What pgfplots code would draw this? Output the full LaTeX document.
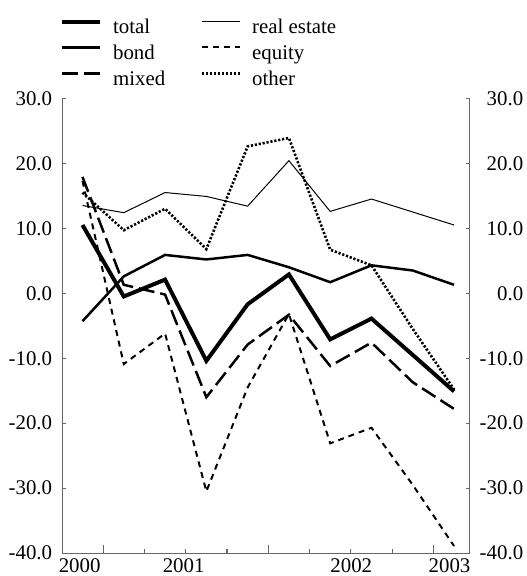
\documentclass[border=0pt]{standalone}
\usepackage{fontspec}
\setmainfont{Liberation Serif}
\usepackage{pgfplots}
\usepackage{pgfplotstable}
\pgfplotsset{compat=1.18}

% Returns by fund type, one row per half-year period
\pgfplotstableread{
i total bond mixed realestate equity other
0  10.5 -4.3  17.9 13.5  17.3  15.5
1  -0.5  2.6   1.3 12.4 -10.9   9.7
2   2.1  5.9  -0.2 15.5  -6.2  13.0
3 -10.4  5.2 -16.0 14.9 -30.5   6.8
4  -1.7  5.9  -7.9 13.4 -14.5  22.6
5   2.9  4.0  -3.3 20.4  -3.2  23.9
6  -7.1  1.7 -11.2 12.6 -23.1   6.7
7  -3.9  4.3  -7.6 14.5 -20.7   4.3
8  -9.5  3.5 -13.7 12.5 -29.5  -5.5
9 -15.1  1.3 -17.8 10.5 -38.9 -14.8
}\fundreturns

\pgfplotsset{
  chartframe/.style={
    scale only axis, width=410.3pt, height=458pt,
    xmin=-0.49, xmax=9.38, ymin=-40, ymax=30,
    axis line style={-, draw=black!60, line width=1.2pt},
    tick style={draw=black!60, line width=1.2pt},
    tick align=inside,
    ytick={-40,-30,...,30},
    yticklabels={-40.0,-30.0,-20.0,-10.0,0.0,10.0,20.0,30.0},
    major tick length=4pt,
    ticklabel style={font=\fontsize{21}{25}\selectfont, inner sep=0pt},
  },
}

\begin{document}
\begin{tikzpicture}
% left y ticks (short)
\begin{axis}[
  chartframe,
  hide x axis,
  axis y line*=left,
  yticklabels={},
]
\end{axis}
% main axis: x axis, left labels, data and legend
\begin{axis}[
  chartframe, name=ax,
  axis x line*=bottom, axis y line*=left,
  major tick length=8pt,
  y tick style={draw=none},
  xtick={0.5,4.5,8.5}, xticklabels={},
  minor xtick={1.5,2.5,3.5,5.5,6.5,7.5},
  minor tick length=4pt,
  extra x ticks={-0.07,2.45,6.51,8.89},
  extra x tick labels={2000,2001,2002,2003},
  extra x tick style={x tick style={draw=none}},
  xticklabel style={anchor=north, yshift=-5pt},
  yticklabel style={anchor=east, xshift=-10pt},
  legend columns=2,
  legend cell align=left,
  legend style={draw=none, fill=none, inner sep=0pt,
    at={(0,1)}, anchor=south west, xshift=-2pt, yshift=5pt,
    font=\fontsize{21}{25}\selectfont,
    nodes={inner xsep=3pt, inner ysep=3pt, text height=15pt, text depth=5pt},
    /tikz/every odd column/.append style={column sep=8pt},
    /tikz/every even column/.append style={column sep=33pt}},
  legend image code/.code={\draw[#1] (0pt,7pt) -- (38pt,7pt);},
]
\addplot[black, line width=4pt] table[x=i, y=total] {\fundreturns};
\addlegendentry{total}
\addplot[black, line width=1pt] table[x=i, y=realestate] {\fundreturns};
\addlegendentry{real estate}
\addplot[black, line width=2.5pt] table[x=i, y=bond] {\fundreturns};
\addlegendentry{bond}
\addplot[black, line width=2pt, dash pattern=on 6pt off 5pt] table[x=i, y=equity] {\fundreturns};
\addlegendentry{equity}
\addplot[black, line width=2.5pt, dash pattern=on 16pt off 6pt] table[x=i, y=mixed] {\fundreturns};
\addlegendentry{mixed}
\addplot[black, line width=2.6pt, dash pattern=on 2.2pt off 1.8pt] table[x=i, y=other] {\fundreturns};
\addlegendentry{other}
\end{axis}
% right y axis with labels
\begin{axis}[
  chartframe,
  hide x axis,
  axis y line*=right,
  yticklabel style={anchor=east, xshift=54pt},
]
\end{axis}
\pgfresetboundingbox
\path[use as bounding box] ([shift={(-62.7pt,-23pt)}]ax.south west)
  rectangle ([shift={(57pt,99pt)}]ax.north east);
\end{tikzpicture}
\end{document}
